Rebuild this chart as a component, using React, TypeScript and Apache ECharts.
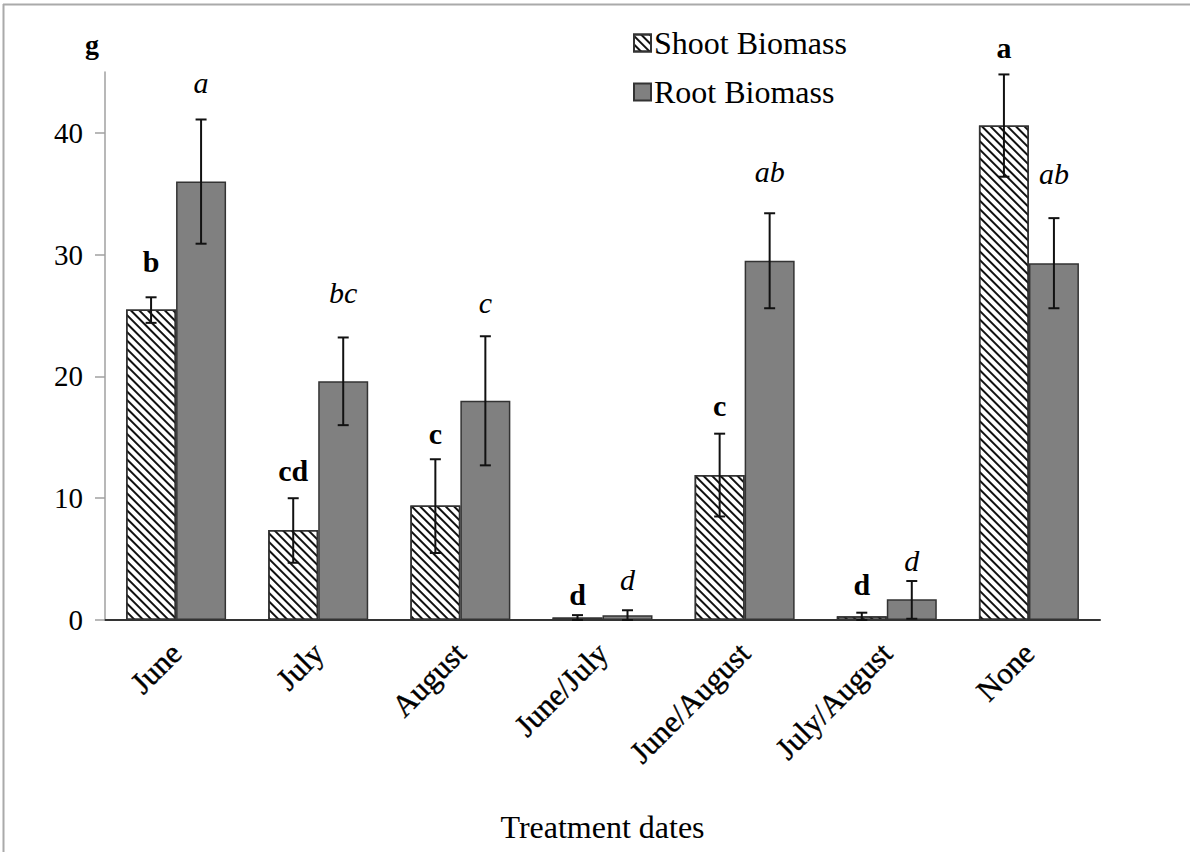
import React, { useEffect, useRef } from "react";
import * as echarts from "echarts";

const categories = ["June", "July", "August", "June/July", "June/August", "July/August", "None"];
const shootMean = [25.5, 7.4, 9.4, 0.2, 11.9, 0.3, 40.6];
const shootLow = [24.4, 4.7, 5.5, 0.0, 8.5, 0.0, 36.4];
const shootHigh = [26.5, 10.0, 13.2, 0.4, 15.3, 0.6, 44.8];
const rootMean = [36.0, 19.6, 18.0, 0.4, 29.5, 1.7, 29.3];
const rootLow = [30.9, 16.0, 12.7, 0.0, 25.6, 0.1, 25.6];
const rootHigh = [41.1, 23.2, 23.3, 0.8, 33.4, 3.2, 33.0];
const shootLetters = ["b", "cd", "c", "d", "c", "d", "a"];
const rootLetters = ["a", "bc", "c", "d", "ab", "d", "ab"];
// annotation anchors (value units)
const shootLetterAt = [29.4, 12.3, 15.3, 2.1, 17.6, 2.9, 47.0];
const rootLetterAt = [44.1, 26.9, 26.1, 3.3, 36.8, 4.9, 36.7];
const yTicks = [0, 10, 20, 30, 40];

const FONT = "Liberation Serif";

function errSeries(name: string, mean: number[], low: number[], high: number[], letters: string[], at: number[], side: number, bold: boolean) {
  return {
    type: "custom",
    name,
    silent: true,
    clip: false,
    z: 5,
    data: categories.map((_, i) => [i, mean[i], low[i], high[i], at[i], i]),
    renderItem: (params: any, api: any) => {
      const i = api.value(5);
      const c = api.coord([api.value(0), api.value(1)]);
      const x = c[0] + side * 25;
      const lo = api.coord([api.value(0), api.value(2)])[1];
      const hi = api.coord([api.value(0), api.value(3)])[1];
      const ty = api.coord([api.value(0), api.value(4)])[1];
      const ls = { stroke: "#111", lineWidth: 2 };
      return {
        type: "group",
        children: [
          { type: "line", shape: { x1: x, y1: lo, x2: x, y2: hi }, style: ls },
          { type: "line", shape: { x1: x - 5.5, y1: hi, x2: x + 5.5, y2: hi }, style: ls },
          { type: "line", shape: { x1: x - 5.5, y1: lo, x2: x + 5.5, y2: lo }, style: ls },
          {
            type: "text",
            x,
            y: ty,
            style: {
              text: letters[i],
              fill: "#000",
              align: "center",
              verticalAlign: "middle",
              fontFamily: FONT,
              fontSize: 30,
              fontWeight: bold ? "bold" : "normal",
              fontStyle: bold ? "normal" : "italic",
            },
          },
        ],
      };
    },
  };
}

export default function App() {
  const ref = useRef<HTMLDivElement>(null);
  useEffect(() => {
    const chart = echarts.init(ref.current!, null, { renderer: "svg" });
    chart.setOption({
      animation: false,
      backgroundColor: "#fff",
      textStyle: { fontFamily: FONT },
      grid: { left: 105, right: 90, top: 72, bottom: 232, containLabel: false, outerBoundsMode: "none" },
      legend: {
        orient: "vertical",
        left: 628,
        top: 22,
        itemWidth: 17,
        itemHeight: 17,
        itemGap: 17,
        icon: "rect",
        textStyle: { fontFamily: FONT, fontSize: 32, color: "#000", padding: [0, 0, 0, -2] },
        data: ["Shoot Biomass", "Root Biomass"],
      },
      xAxis: {
        type: "category",
        data: categories,
        name: "Treatment dates",
        nameLocation: "middle",
        nameGap: 191,
        nameTextStyle: { fontFamily: FONT, fontSize: 32, color: "#000" },
        axisLine: { lineStyle: { color: "#333", width: 2 } },
        axisTick: { show: false },
        axisLabel: {
          rotate: 45,
          interval: 0,
          margin: 28,
          fontFamily: FONT,
          fontSize: 31,
          color: "#000",
          textBorderColor: "#000",
          textBorderWidth: 0.4,
        },
      },
      yAxis: {
        type: "value",
        min: 0,
        max: 45,
        interval: 10,
        splitLine: { show: false },
        axisLine: { show: true, lineStyle: { color: "#a0a0a0", width: 1.5 } },
        axisTick: { show: true, length: 10, lineStyle: { color: "#a0a0a0", width: 1.5 }, customValues: yTicks },
        axisLabel: { margin: 22, fontFamily: FONT, fontSize: 29, color: "#000", customValues: yTicks },
      },
      series: [
        {
          type: "bar",
          name: "Shoot Biomass",
          data: shootMean,
          barWidth: 50,
          barGap: "0%",
          itemStyle: {
            color: "#ffffff",
            borderColor: "#333",
            borderWidth: 1.5,
            decal: {
              symbol: "rect",
              symbolSize: 1,
              color: "#111",
              dashArrayX: [1, 0],
              dashArrayY: [1.4, 3.2],
              rotation: Math.PI / 4,
            },
          },
        },
        {
          type: "bar",
          name: "Root Biomass",
          data: rootMean,
          barWidth: 50,
          barGap: "0%",
          itemStyle: { color: "#808080", borderColor: "#333", borderWidth: 1.5 },
        },
        errSeries("shootErr", shootMean, shootLow, shootHigh, shootLetters, shootLetterAt, -1, true),
        errSeries("rootErr", rootMean, rootLow, rootHigh, rootLetters, rootLetterAt, 1, false),
      ],
      graphic: [
        { type: "line", shape: { x1: 3.5, y1: 4, x2: 3.5, y2: 852 }, style: { stroke: "#aaa", lineWidth: 2 } },
        { type: "line", shape: { x1: 3, y1: 4.5, x2: 1190, y2: 4.5 }, style: { stroke: "#aaa", lineWidth: 2 } },
        { type: "text", left: 85, top: 30, style: { text: "g", fontFamily: FONT, fontSize: 28, fontWeight: "bold", fill: "#000" } },
      ],
    });
    return () => chart.dispose();
  }, []);
  return <div ref={ref} style={{ position: "fixed", left: 0, top: 0, width: 1190, height: 852 }} />;
}
